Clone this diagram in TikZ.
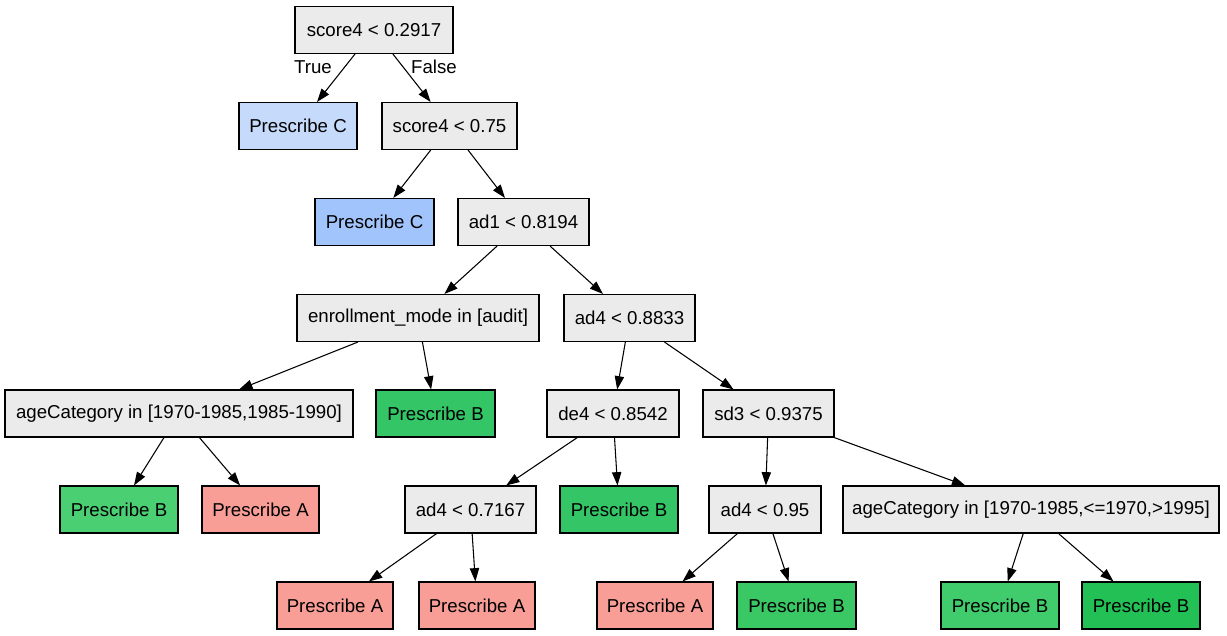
\documentclass[tikz,border=0pt]{standalone}
\usepackage{fontspec}
\setmainfont{Liberation Sans}
\usetikzlibrary{arrows.meta}
\definecolor{grayfill}{HTML}{EBEBEB}
\definecolor{cLight}{HTML}{C6DBFC}
\definecolor{cMid}{HTML}{A2C4FC}
\definecolor{aRed}{HTML}{F89E96}
\definecolor{bG1}{HTML}{33C566}
\definecolor{bG2}{HTML}{4ACF73}
\definecolor{bG3}{HTML}{3AC865}
\definecolor{bG4}{HTML}{40CB6C}
\definecolor{bG5}{HTML}{22C055}
\tikzset{
  tnode/.style={draw=black, line width=0.8pt, rectangle, minimum height=35.25pt, inner sep=0pt,
    font=\fontsize{14pt}{16pt}\selectfont},
  dec/.style={tnode, fill=grayfill},
  edge/.style={draw=black, line width=0.8pt, -{Triangle[length=10pt,width=7pt]}},
  elab/.style={font=\fontsize{14pt}{16pt}\selectfont}
}
\begin{document}
\begin{tikzpicture}[x=0.75pt,y=-0.75pt]
\useasboundingbox (0,0) rectangle (1227,635);
\node[dec, minimum width=118.5pt] (root) at (374,30) {score4 < 0.2917};
\node[tnode, fill=cLight, minimum width=88.5pt] (pc1) at (298,126) {Prescribe C};
\node[dec, minimum width=101.25pt] (s2) at (449.5,126) {score4 < 0.75};
\node[tnode, fill=cMid, minimum width=89.25pt] (pc2) at (374.5,222) {Prescribe C};
\node[dec, minimum width=98.25pt] (ad1) at (523.5,222) {ad1 < 0.8194};
\node[dec, minimum width=181.5pt] (em) at (418,318) {enrollment\_mode in [audit]};
\node[dec, minimum width=98.25pt] (ad4a) at (629.5,318) {ad4 < 0.8833};
\node[dec, minimum width=261pt] (age1) at (179,413.5) {ageCategory in [1970-1985,1985-1990]};
\node[tnode, fill=bG1, minimum width=89.25pt] (pb1) at (435.5,413.5) {Prescribe B};
\node[dec, minimum width=99pt] (de4) at (613,413.5) {de4 < 0.8542};
\node[dec, minimum width=98.25pt] (sd3) at (768.5,413.5) {sd3 < 0.9375};
\node[tnode, fill=bG2, minimum width=88.5pt] (pb2) at (119,509.5) {Prescribe B};
\node[tnode, fill=aRed, minimum width=87.75pt] (pa1) at (260.5,509.5) {Prescribe A};
\node[dec, minimum width=98.25pt] (ad4b) at (470.5,509.5) {ad4 < 0.7167};
\node[tnode, fill=bG1, minimum width=88.5pt] (pb3) at (619,509.5) {Prescribe B};
\node[dec, minimum width=84pt] (ad4c) at (765,509.5) {ad4 < 0.95};
\node[dec, minimum width=282pt] (age2) at (1031,509.5) {ageCategory in [1970-1985,<=1970,>1995]};
\node[tnode, fill=aRed, minimum width=87pt] (pa2) at (335,605.5) {Prescribe A};
\node[tnode, fill=aRed, minimum width=87pt] (pa3) at (477,605.5) {Prescribe A};
\node[tnode, fill=aRed, minimum width=87pt] (pa4) at (655,605.5) {Prescribe A};
\node[tnode, fill=bG3, minimum width=89.25pt] (pb4) at (796.5,605.5) {Prescribe B};
\node[tnode, fill=bG4, minimum width=88.5pt] (pb5) at (1000,605.5) {Prescribe B};
\node[tnode, fill=bG5, minimum width=88.5pt] (pb6) at (1141,605.5) {Prescribe B};
\draw[edge] (root) -- (pc1);
\draw[edge] (root) -- (s2);
\node[elab] (tlab) at (313,67) {True};
\node[elab] (flab) at (434,67) {False};
\draw[edge] (s2) -- (pc2);
\draw[edge] (s2) -- (ad1);
\draw[edge] (ad1) -- (em);
\draw[edge] (ad1) -- (ad4a);
\draw[edge] (em) -- (age1);
\draw[edge] (em) -- (pb1);
\draw[edge] (ad4a) -- (de4);
\draw[edge] (ad4a) -- (sd3);
\draw[edge] (age1) -- (pb2);
\draw[edge] (age1) -- (pa1);
\draw[edge] (de4) -- (ad4b);
\draw[edge] (de4) -- (pb3);
\draw[edge] (sd3) -- (ad4c);
\draw[edge] (sd3) -- (age2);
\draw[edge] (ad4b) -- (pa2);
\draw[edge] (ad4b) -- (pa3);
\draw[edge] (ad4c) -- (pa4);
\draw[edge] (ad4c) -- (pb4);
\draw[edge] (age2) -- (pb5);
\draw[edge] (age2) -- (pb6);
\end{tikzpicture}
\end{document}
